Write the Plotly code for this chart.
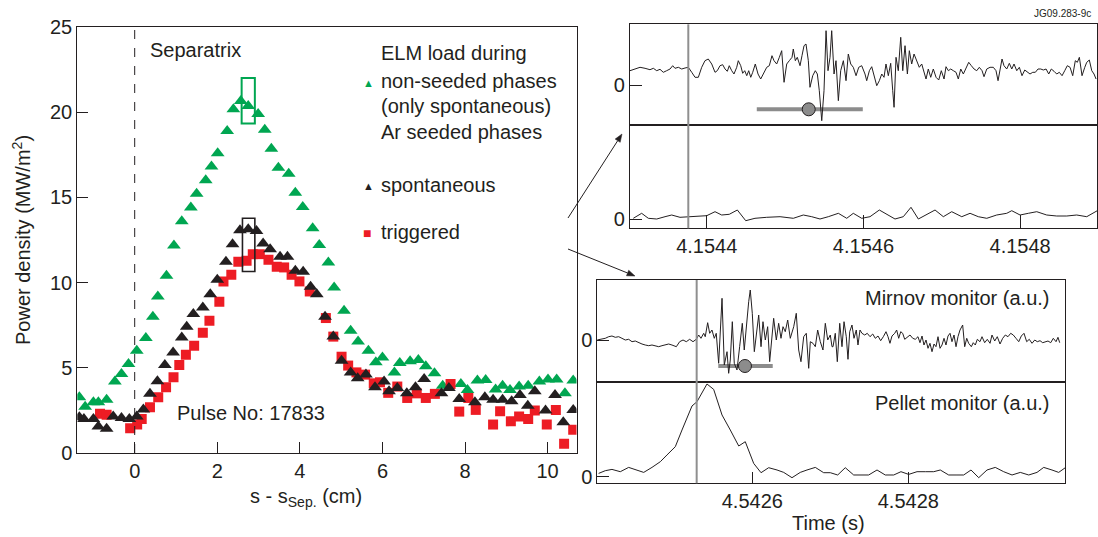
import math
import plotly.graph_objects as go

W, H = 1098, 537
FONT = "Liberation Sans, Arial, Helvetica, sans-serif"
INK = "#231f20"
GREEN = "#00a651"
RED = "#ed1c24"
GRAY = "#8c8c8c"

# ---------------- main plot data (s - s_sep in cm, power density MW/m2) ----------------
nonseeded_x = [-1.34, -1.20, -1.00, -0.88, -0.68, -0.48, -0.32, -0.15, 0.05, 0.27, 0.44, 0.56, 0.77, 0.95,
               1.14, 1.36, 1.50, 1.72, 1.86, 2.01, 2.24, 2.39, 2.57, 2.75, 2.99, 3.15, 3.31, 3.48, 3.73,
               3.89, 4.07, 4.31, 4.47, 4.69, 4.83, 5.07, 5.23, 5.41, 5.66, 5.84, 6.00, 6.29, 6.42, 6.67,
               6.87, 7.05, 7.26, 7.46, 7.90, 8.06, 8.30, 8.50, 8.74, 8.91, 9.09, 9.31, 9.53, 9.80, 10.01,
               10.22, 10.42, 10.62]
nonseeded_y = [3.27, 2.72, 2.98, 2.98, 3.12, 4.19, 4.64, 5.22, 6.00, 6.75, 8.00, 9.19, 10.40, 12.17,
               13.60, 14.40, 15.22, 16.00, 16.82, 17.59, 18.89, 20.18, 20.65, 20.36, 19.90, 18.97, 17.86,
               16.74, 16.39, 15.28, 14.44, 13.19, 12.20, 11.18, 9.71, 8.35, 7.18, 6.55, 6.00, 5.32, 5.61,
               4.73, 5.28, 5.38, 5.46, 5.09, 4.68, 3.95, 4.05, 3.70, 4.25, 4.29, 3.72, 3.95, 3.70, 3.90,
               3.95, 4.19, 4.31, 4.31, 3.50, 4.25]

spont_x = [-1.34, -1.23, -1.00, -0.88, -0.68, -0.52, -0.32, -0.13, 0.05, 0.21, 0.37, 0.55, 0.73, 0.93,
           1.14, 1.26, 1.42, 1.65, 1.83, 2.00, 2.21, 2.37, 2.55, 2.75, 2.95, 3.11, 3.28, 3.52, 3.70, 3.89,
           4.08, 4.26, 4.41, 4.61, 4.81, 5.01, 5.23, 5.40, 5.60, 5.82, 6.04, 6.16, 6.36, 6.59, 6.80, 7.01,
           7.43, 7.61, 7.86, 8.24, 8.48, 8.68, 8.91, 9.13, 9.33, 9.52, 9.69, 9.95, 10.18, 10.38, 10.62]
spont_y = [2.10, 2.00, 2.00, 1.55, 1.42, 2.14, 2.06, 2.00, 2.14, 2.55, 3.47, 4.21, 5.17, 5.90, 6.78,
           7.41, 8.15, 8.54, 9.32, 10.16, 11.22, 12.25, 13.07, 13.13, 13.03, 12.29, 11.96, 11.51, 11.51,
           10.69, 10.63, 9.75, 9.32, 8.00, 6.83, 5.42, 4.73, 4.38, 4.60, 3.86, 4.19, 3.62, 3.82, 3.50,
           3.86, 4.35, 3.50, 3.82, 3.17, 2.98, 3.27, 3.12, 3.12, 3.04, 3.41, 2.78, 3.62, 2.49, 3.41, 1.80,
           2.53]

trig_x = [-0.84, -0.68, -0.11, 0.06, 0.17, 0.37, 0.57, 0.76, 0.94, 1.08, 1.24, 1.44, 1.65, 1.81, 2.05,
          2.15, 2.34, 2.51, 2.71, 2.86, 3.03, 3.24, 3.44, 3.62, 3.80, 3.99, 4.24, 4.63, 4.81, 5.01, 5.17,
          5.37, 5.58, 5.79, 5.94, 6.14, 6.36, 6.60, 6.83, 7.05, 7.27, 7.65, 7.86, 8.08, 8.26, 8.68, 8.85,
          9.11, 9.31, 9.53, 9.69, 9.98, 10.20, 10.40, 10.62]
trig_y = [2.30, 2.24, 1.45, 1.67, 2.00, 2.68, 3.27, 3.86, 4.44, 5.17, 5.77, 6.30, 7.06, 7.76, 8.87,
          10.07, 10.46, 11.22, 11.28, 11.67, 11.67, 11.34, 10.93, 10.89, 10.46, 10.07, 9.48, 7.92, 6.83,
          5.65, 5.13, 4.73, 4.60, 4.09, 4.15, 3.53, 3.90, 3.23, 3.50, 3.23, 3.47, 4.05, 2.43, 3.23, 2.53,
          1.67, 2.45, 1.86, 2.14, 2.00, 2.49, 1.67, 2.53, 0.54, 1.36]

x_ticks = [0, 2, 4, 6, 8, 10]
y_ticks = [0, 5, 10, 15, 20, 25]

# highlighted peak boxes (x0, x1, y0, y1)
green_box = [2.59, 2.91, 19.33, 22.0]
black_box = [2.61, 2.91, 10.65, 13.78]

# ---------------- inset data (time offsets in microseconds, signals in a.u.) ----------------
T0_TOP = 4.1544
T0_BOT = 4.5426

top_mirnov_dt_us = [-97.9, -91.5, -85.1, -78.7, -72.4, -68.1, -63.8, -59.6, -55.4, -51.1, -46.8, -43.4,
    -40.5, -36.2, -31.9, -27.7, -23.5, -19.1, -14.9, -10.7, -6.4, -2.2, 2.0, 6.4, 10.6, 13.5, 17.0, 20.4,
    23.4, 26.3, 28.8, 31.9, 34.8, 38.3, 40.3, 43.4, 45.9, 48.5, 51.1, 53.6, 56.2, 58.7, 62.0, 65.5, 68.9,
    72.2, 76.6, 79.9, 83.3, 85.9, 89.3, 92.7, 95.7, 98.7, 102.1, 105.4, 108.9, 110.5, 113.1, 115.6, 119.1,
    121.6, 124.2, 126.7, 129.7, 131.8, 135.3, 138.6, 141.2, 143.7, 146.8, 149.7, 152.3, 154.8, 157.4,
    159.5, 162.5, 165.0, 168.0, 171.0, 174.4, 177.8, 180.7, 183.8, 187.1, 190.6, 194.0, 197.8, 202.0,
    204.2, 207.6, 210.6, 213.5, 217.0, 220.3, 223.4, 226.3, 228.8, 231.8, 234.8, 237.4, 239.1, 241.6,
    244.5, 247.6, 250.2, 253.1, 256.1, 258.6, 261.6, 264.6, 268.0, 271.3, 274.4, 277.3, 279.9, 282.8,
    285.9, 289.2, 292.7, 296.1, 299.4, 302.9, 305.4, 308.4, 311.4, 314.8, 318.2, 321.1, 324.2, 327.5,
    330.9, 334.4, 337.7, 341.2, 344.6, 347.9, 351.4, 353.9, 357.4, 361.6, 365.8, 369.2, 371.8, 374.3,
    376.9, 379.4, 382.9, 386.2, 389.3, 392.2, 395.7, 399.0, 402.4, 405.9, 409.2, 412.6, 416.1, 419.4,
    422.8, 426.3, 429.6, 433.1, 436.5, 439.8, 443.3, 446.7, 450.0, 453.5, 456.9, 460.2, 463.7, 467.1,
    470.4, 473.0, 475.6, 479.0, 482.5, 485.0, 488.3, 491.4, 494.3, 496.9]
top_mirnov_val = [14.3, 16, 17.7, 16.7, 15.3, 16.7, 14.3, 15.7, 12.7, 14.3, 16, 19.3, 16.7, 17.7, 16, 17,
    17.7, 12.7, 7.7, 7.7, 17.7, 24.3, 26, 21, 12.7, 14.3, 19.3, 20.3, 16, 13.7, 19.3, 14.3, 11, 17.7, 24.3,
    19.3, 11.7, 14.3, 9.3, 14.3, 7.7, 12.7, 21, 11, 6, 11, 17.7, 19.3, 29.3, 24.3, 21, 27.7, 34.3, 2.7, 21,
    24.3, 27.7, 36, 24.3, 27.7, 19.3, 29.3, 39.3, 41, 24.3, -2.3, 9.3, 14.3, 11, -5.7, -35.7, -5.7, 54.3,
    14.3, 27.7, 54.3, 11, 24.3, -15.7, 14.3, 24.3, 4.3, 31, 21, 17.7, 9.3, 17.7, 19.3, 11,
    4.3, 14.3, 18.3, 9.3, -0.7, 4.3, 11, 7.7, 21, 9.3, 21.7, -5.7, -22.3, 27.7, 14.3, 47.7, 14.3, 39.3, 11,
    34.3, 21, 31, 24.3, 17.7, 21, 14.3, 6, 16, 7.7, 16, 7.7, 5, 14.3, 6, 18.3, 14.3, 16, 14.3, 12.7, 6, 16,
    11, 16, 22.7, 19.3, 16, 14.3, 17.7, 14.3, 8.3, 16, 17.7, 17.7, 14.3, 4.3, 16, 26, 19.3, 16, 21.7, 16,
    21, 14.3, 17.7, 9.3, 15, 12.7, 11, 12.7, 12.7, 16, 16, 15, 16, 11, 16, 13.7, 11, 12.7, 9.3, 14.3, 19.3,
    17.7, 9.3, 24.3, 22.7, 27.7, 9.3, 17.7, 22.7, 25, 14.3, 11, 6]

top_pellet_dt_us = [-93.7, -83.0, -74.5, -63.8, -53.2, -44.7, -34.1, -21.3, -8.6, 0.0, 10.6, 19.1, 28.8,
    39.1, 49.8, 61.6, 76.6, 93.6, 110.5, 123.3, 134.0, 144.6, 155.2, 168.0, 178.7, 187.1, 197.8, 208.4,
    220.3, 231.8, 240.3, 250.9, 260.7, 270.1, 280.8, 291.4, 302.0, 312.7, 325.5, 336.1, 346.6, 357.4,
    370.1, 382.9, 389.3, 399.9, 410.5, 421.2, 433.9, 446.7, 459.5, 472.2, 485.0, 498.5]
top_pellet_val = [0.7, 5.7, 0.7, 0, 2.3, 4, 1.7, 2.3, 2.3, 3.3, 7.3, 4, 4.7, 9, -1.7, 0.7, 1.7, 2.3, 0.7, 4,
    2.3, 0, 2.3, 5.7, 0.7, 5.7, 0.7, 2.3, 9, 4, 0, 2.3, 11.7, 0, 4.7, 9, 2.3, 7.3, 2.3, 5.7, 2.3, 0.7, 4, 5.7,
    8.3, 4, 5.7, 7.3, 4, 3, 3, 4, 2.3, 8.3]

bot_mirnov_dt_us = [-199.1, -192.7, -188.5, -184.1, -179.9, -175.6, -171.3, -167.1, -162.8, -158.5, -154.2,
    -150.0, -145.6, -141.4, -137.2, -132.8, -128.6, -124.4, -120.0, -115.8, -111.5, -107.2, -103.0, -97.4,
    -93.1, -88.8, -84.6, -80.3, -76.0, -71.8, -68.7, -65.8, -62.3, -60.3, -57.2, -54.6, -51.7, -48.7, -46.2,
    -43.1, -38.8, -35.9, -32.4, -30.3, -28.2, -25.6, -23.1, -19.6, -16.2, -12.8, -10.3, -7.7, -4.6, -2.6,
    0.0, 2.6, 5.1, 8.2, 11.2, 13.7, 16.7, 19.7, 22.3, 25.3, 27.4, 30.8, 33.8, 36.8, 39.4, 42.3, 45.4, 48.7,
    53.1, 56.4, 59.5, 62.4, 65.9, 69.2, 72.3, 74.4, 77.8, 80.8, 83.8, 87.2, 90.6, 93.6, 96.7, 100.0, 102.2,
    103.5, 106.4, 109.0, 112.1, 115.0, 117.6, 120.5, 122.7, 124.9, 127.8, 130.4, 133.3, 135.5, 138.1,
    140.6, 144.1, 147.4, 150.9, 154.4, 157.7, 161.2, 164.6, 168.0, 171.4, 174.0, 176.5, 179.1, 182.6,
    185.1, 187.7, 190.3, 192.8, 195.4, 198.7, 202.2, 205.7, 209.0, 212.4, 215.0, 217.6, 220.1, 222.7,
    225.3, 227.8, 230.4, 233.0, 235.5, 238.1, 240.7, 243.2, 245.8, 248.3, 250.9, 253.5, 256.0, 258.6,
    261.2, 263.7, 266.3, 269.7, 272.3, 274.9, 277.4, 280.8, 283.3, 285.9, 288.5, 291.9, 294.5, 297.9,
    301.3, 304.8, 307.3, 310.8, 314.1, 317.6, 321.0, 324.4, 327.8, 331.3, 334.6, 338.1, 341.6, 344.9,
    348.3, 351.8, 355.1, 358.6, 362.1, 365.4, 368.9, 372.3, 375.7, 379.1, 382.6, 385.9, 389.4, 391.9, 394.1]
bot_mirnov_val = [0, 0.7, 1.7, 3.3, 4, 2.7, 3.3, 1.7, 0, 0.7, -1.7, -1, -2.7, -4, -5, -5.7, -5, -5.7, -6.7,
    -5.7, -5, -4, -5, -6.7, -1.7, 0, -1.7, 0.7, -1.7, 0.7, 5, 1.7, 6.7, 3.3, 17.3, 6.7, 10, 1.7, 6.7, -23.3,
    41.7, -25, -11.7, -33.3, -20, 18.3, -23.3, -30, -6.7, 16.7, -10, 13.3, 38.3, 50, 26.7, -11.7, 6.7, 25,
    -6.7, 18.3, 0, 13.3, -21.7, 6.7, 21.7, 0, 16.7, 1.7, 13.3, 8.3, 20, 1.7, 13.3, 26.7, -10, -21.7, 3.3,
    6.7, -28.3, -1.7, -3.3, -6.7, 10, -1.7, -10, 16.7, 0, 5, -6.7,
    -6.7, 6.7, -21.7, 16.7, -6.7, 18.3, 3.3, -19.3, 8.3, 15, 1.7, 10, -5, 10, 6.7, 5, 6.7, 3.3, 6, 1.7, 4,
    -0.7, 3.3, 8.3, 3.3, -3.3, 4, 6.7, 10, 1.7, 8.3, 6.7, 0.7, 3.3, 5, 1.7, 0.7, 3.3, -2.7, 4, -5, 0, -8.3,
    -3.3, -11.7, -4, -6.7, 3.3, -8.3, -5, 1.7, -5, 4, 6.7, -1.7, 5, -6.7, 3.3, 10, 15, -6.7, 1.7, -3.3,
    -6.7, -2.7, -5, 0.7, -1.7, 3.3, -2.7, 0.7, -3.3, 5, -1, 3.3, -4, 1.7, 5, 3.3, 6.7, 5, 1.7, -1.7, 4, 6.7,
    -1.7, 0.7, -3.3, 0, -1.7, -0.7, -2.7, -1.7, -1, -2.7, 1.7, -1.7, 2.7, -2.7]

bot_pellet_dt_us = [-197.0, -188.5, -179.9, -169.2, -158.5, -150.0, -139.2, -128.6, -117.9, -109.4, -98.7,
    -90.1, -81.5, -77.3, -70.9, -63.2, -58.1, -49.5, -38.8, -28.2, -17.4, -9.0, 1.8, 11.2, 21.0, 31.7, 40.3,
    50.9, 61.5, 70.1, 80.8, 91.5, 100.0, 109.5, 119.2, 130.0, 140.6, 149.2, 159.9, 170.5, 181.3, 190.6,
    200.5, 211.2, 221.8, 232.6, 241.0, 251.8, 262.4, 271.0, 280.4, 290.3, 300.9, 311.5, 322.3, 333.0,
    343.6, 354.4, 365.0, 373.6, 384.2, 392.8, 401.3]
bot_pellet_val = [3.3, 6, 7.3, 5, 9.3, 7.3, 4.3, 9.3, 15, 21.7, 30, 46.7, 63.3, 70.7, 75, 85, 92.7, 87.3,
    61.7, 46.7, 30.7, 35, 13.3, 4, 9, 6.7, 4.3, -1, 4.3, 6.7, 9.3, 4, 4, 1.7, 9, 1.7, 1.7, 1.7, 6.7, 1.7, 1.7,
    5, 2.3, 5, 5, 5, 6.7, 1.7, 1.7, 1.7, 6.7, -1, 6.7, 9.3, 5, 1.7, 4.3, 1.7, 4.3, 9.3, 6.7, 4.3, 9]

# ELM marker (centre, start, end in us; level in a.u.) and trigger time markers
top_elm = dict(center=130.2, start=63.9, end=199.2, level=-24.3)
bot_elm = dict(center=-9.4, start=-43.6, end=26.2, level=-26.0)
top_marker_us = -23.5
bot_marker_us = -71.3

top_range_us = [-97.9, 498.1]
bot_range_us = [-198.7, 400.9]
top_ticks = [4.1544, 4.1546, 4.1548]
bot_ticks = [4.5426, 4.5428]


def tt(t0, us):
    return [t0 + u * 1e-6 for u in us]


def px(x):
    return x / W


def py(y):
    return 1 - y / H


fig = go.Figure()

# main plot traces
fig.add_trace(go.Scatter(x=nonseeded_x, y=nonseeded_y, mode="markers", xaxis="x", yaxis="y",
                         marker=dict(symbol="triangle-up", size=12, color=GREEN, line=dict(width=0))))
fig.add_trace(go.Scatter(x=trig_x, y=trig_y, mode="markers", xaxis="x", yaxis="y",
                         marker=dict(symbol="square", size=10, color=RED, line=dict(width=0))))
fig.add_trace(go.Scatter(x=spont_x, y=spont_y, mode="markers", xaxis="x", yaxis="y",
                         marker=dict(symbol="triangle-up", size=12, color=INK, line=dict(width=0))))


def elm_trace(d, t0, xa, ya):
    return go.Scatter(
        x=[t0 + d["center"] * 1e-6], y=[d["level"]], mode="markers", xaxis=xa, yaxis=ya,
        marker=dict(size=13, color=GRAY, line=dict(color=INK, width=1)),
        error_x=dict(type="data", symmetric=False, array=[(d["end"] - d["center"]) * 1e-6],
                     arrayminus=[(d["center"] - d["start"]) * 1e-6], thickness=4, width=0, color=GRAY))


fig.add_trace(elm_trace(top_elm, T0_TOP, "x2", "y2"))
fig.add_trace(go.Scatter(x=tt(T0_TOP, top_mirnov_dt_us), y=top_mirnov_val, mode="lines", xaxis="x2", yaxis="y2",
                         line=dict(color=INK, width=1)))
fig.add_trace(go.Scatter(x=tt(T0_TOP, top_pellet_dt_us), y=top_pellet_val, mode="lines", xaxis="x3", yaxis="y3",
                         line=dict(color=INK, width=1)))
fig.add_trace(elm_trace(bot_elm, T0_BOT, "x4", "y4"))
fig.add_trace(go.Scatter(x=tt(T0_BOT, bot_mirnov_dt_us), y=bot_mirnov_val, mode="lines", xaxis="x4", yaxis="y4",
                         line=dict(color=INK, width=1)))
fig.add_trace(go.Scatter(x=tt(T0_BOT, bot_pellet_dt_us), y=bot_pellet_val, mode="lines", xaxis="x5", yaxis="y5",
                         line=dict(color=INK, width=1)))

base_axis = dict(showline=True, mirror=True, linecolor=INK, linewidth=1.1, showgrid=False, zeroline=False,
                 automargin=False, ticks="inside", tickcolor=INK, tickwidth=1,
                 tickfont=dict(size=20, color=INK, family=FONT))

main_xd = [px(77.3), px(576.5)]
main_yd = [py(453), py(27)]
top_xd = [px(630), px(1097)]
top_up = [py(125.3), py(24.3)]
top_lo = [py(228.3), py(125.3)]
bot_xd = [px(597.3), px(1065)]
bot_up = [py(382.3), py(280)]
bot_lo = [py(483.3), py(382.3)]

top_rng = tt(T0_TOP, top_range_us)
bot_rng = tt(T0_BOT, bot_range_us)

fig.update_layout(
    width=W, height=H, autosize=False, margin=dict(l=0, r=0, t=0, b=0, pad=0), showlegend=False,
    paper_bgcolor="white", plot_bgcolor="white",
    font=dict(family=FONT, color=INK, size=20),
    xaxis=dict(base_axis, domain=main_xd, range=[-1.39, 10.70], tickvals=x_ticks, ticklen=11, anchor="y"),
    yaxis=dict(base_axis, domain=main_yd, range=[0, 25], tickvals=y_ticks, ticklen=11, anchor="x"),
    xaxis2=dict(base_axis, domain=top_xd, range=top_rng, ticks="", showticklabels=False, anchor="y2"),
    yaxis2=dict(base_axis, domain=top_up, range=[-40.3, 60.7], tickvals=[0], ticktext=["0"], ticklen=12, anchor="x2"),
    xaxis3=dict(base_axis, domain=top_xd, range=top_rng, tickvals=top_ticks,
                ticktext=[f"{v:.4f}" for v in top_ticks], ticklen=13, anchor="y3"),
    yaxis3=dict(base_axis, domain=top_lo, range=[-9.3, 93.7], tickvals=[0], ticktext=["0"], ticklen=12, anchor="x3"),
    xaxis4=dict(base_axis, domain=bot_xd, range=bot_rng, ticks="", showticklabels=False, anchor="y4"),
    yaxis4=dict(base_axis, domain=bot_up, range=[-42.3, 60], tickvals=[0], ticktext=["0"], ticklen=12, anchor="x4"),
    xaxis5=dict(base_axis, domain=bot_xd, range=bot_rng, tickvals=bot_ticks,
                ticktext=[f"{v:.4f}" for v in bot_ticks], ticklen=11, anchor="y5"),
    yaxis5=dict(base_axis, domain=bot_lo, range=[-6.6, 94.4], tickvals=[0], ticktext=["0"], ticklen=12, anchor="x5"),
)

shapes = [
    # separatrix
    dict(type="line", xref="x", yref="y domain", x0=0, x1=0, y0=0, y1=1,
         line=dict(color=INK, width=1, dash="dash")),
    dict(type="rect", xref="x", yref="y", x0=green_box[0], x1=green_box[1], y0=green_box[2], y1=green_box[3],
         line=dict(color=GREEN, width=2), layer="above"),
    dict(type="rect", xref="x", yref="y", x0=black_box[0], x1=black_box[1], y0=black_box[2], y1=black_box[3],
         line=dict(color=INK, width=1.6), layer="above"),
    # trigger time lines in insets
    dict(type="line", xref="x2", yref="paper", x0=T0_TOP + top_marker_us * 1e-6, x1=T0_TOP + top_marker_us * 1e-6,
         y0=top_lo[0], y1=top_up[1], line=dict(color="#8f8f8f", width=2)),
    dict(type="line", xref="x4", yref="paper", x0=T0_BOT + bot_marker_us * 1e-6, x1=T0_BOT + bot_marker_us * 1e-6,
         y0=bot_lo[0], y1=bot_up[1], line=dict(color="#8f8f8f", width=2)),
]


def arrow(tail, head, length=8.0, half=3.0):
    dx, dy = head[0] - tail[0], head[1] - tail[1]
    n = math.hypot(dx, dy)
    ux, uy = dx / n, dy / n
    bx, by = head[0] - length * ux, head[1] - length * uy
    c1 = (bx + half * uy, by - half * ux)
    c2 = (bx - half * uy, by + half * ux)
    line = dict(type="line", xref="paper", yref="paper", x0=px(tail[0]), y0=py(tail[1]),
                x1=px(bx), y1=py(by), line=dict(color=INK, width=1))
    path = "M {:.5f},{:.5f} L {:.5f},{:.5f} L {:.5f},{:.5f} Z".format(
        px(head[0]), py(head[1]), px(c1[0]), py(c1[1]), px(c2[0]), py(c2[1]))
    tri = dict(type="path", xref="paper", yref="paper", path=path, fillcolor=INK, line=dict(color=INK, width=0.5))
    return [line, tri]


# arrows linking the plot to the insets (pixel positions of tail and head)
shapes += arrow((568, 218), (622, 134))
shapes += arrow((568, 249), (635, 276))
fig.update_layout(shapes=shapes)

ann = []


def txt(text, x, y, size=20, xanchor="left", yanchor="middle", color=INK):
    ann.append(dict(text=text, x=x, y=y, xref="paper", yref="paper",
                    showarrow=False, xanchor=xanchor, yanchor=yanchor,
                    font=dict(size=size, color=color, family=FONT)))


txt("Separatrix", px(148), py(50))
txt("Pulse No: 17833", px(175), py(413))
txt("ELM load during", px(379), py(53))
txt("non-seeded phases", px(379), py(81.5))
txt("(only spontaneous)", px(379), py(106))
txt("Ar seeded phases", px(379), py(131.5))
txt("spontaneous", px(379), py(185))
txt("triggered", px(379), py(231.5))
txt("▲", px(368), py(82.5), size=11, xanchor="center", color=GREEN)
txt("▲", px(368), py(186), size=11, xanchor="center", color=INK)
txt("■", px(367), py(233), size=14, xanchor="center", color=RED)
txt("Power density (MW/m<sup>2</sup>)", px(22), py(240), xanchor="center")
ann[-1]["textangle"] = -90
txt("s - s<sub>Sep.</sub> (cm)", px(306), py(497), xanchor="center")
txt("Time (s)", px(828), py(523), xanchor="center")
txt("Mirnov monitor (a.u.)", px(1052), py(298), xanchor="right")
txt("Pellet monitor (a.u.)", px(1052), py(403), xanchor="right")
txt("JG09.283-9c", px(1093), py(14), size=10, xanchor="right")

fig.update_layout(annotations=ann)

fig.write_html(
    "out.html",
    config={"displayModeBar": False},
    post_script="document.documentElement.style.margin='0';document.body.style.margin='0';"
                "document.body.style.overflow='hidden';document.documentElement.style.overflow='hidden';",
)
